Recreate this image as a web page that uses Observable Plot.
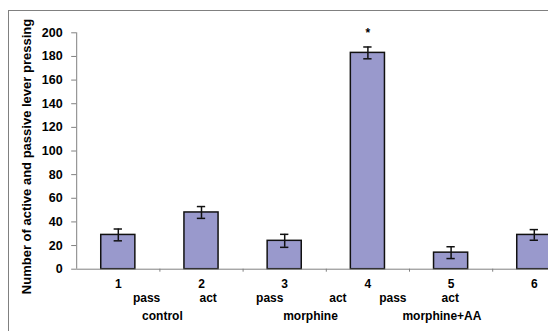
<!DOCTYPE html>
<html><head><meta charset="utf-8">
<script src="https://cdn.jsdelivr.net/npm/d3@7"></script>
<script src="https://cdn.jsdelivr.net/npm/@observablehq/plot@0.6"></script>
<style>
html,body{margin:0;padding:0;background:#fff;overflow:hidden;}
#wrap{position:relative;width:548px;height:331px;overflow:hidden;}
#frame{position:absolute;left:8px;top:10px;width:700px;height:500px;border:1px solid #808080;box-sizing:border-box;pointer-events:none;}
</style></head>
<body><div id="wrap"><div id="chart"></div><div id="frame"></div></div>
<script>
const categories = [1, 2, 3, 4, 5, 6];
const values = [29, 48, 24, 183, 14, 29];
const errors = [5, 5, 5.5, 5, 5, 4.5];
const notes = ["", "", "", "*", "", ""];
const yTicks = [0, 20, 40, 60, 80, 100, 120, 140, 160, 180, 200];
const conditionLabels = ["pass", "act", "pass", "act", "pass", "act"];
const conditionAt = [1.34, 2.08, 2.82, 3.64, 4.30, 4.99];
const groupLabels = ["control", "morphine", "morphine+AA"];
const groupAt = [1.53, 3.31, 4.89];
const yTitle = "Number of active and passive lever pressing";

const data = categories.map((c, i) => ({cat: c, value: values[i], err: errors[i], note: notes[i]}));
const half = 0.205, cap = 0.05;
const grey = "#808080";

const plot = Plot.plot({
  width: 548, height: 331,
  marginLeft: 76.2, marginRight: 548 - 575.4, marginTop: 32.3, marginBottom: 62.3,
  x: {type: "linear", domain: [0.5, 6.5], axis: null},
  y: {domain: [0, 200], axis: null},
  style: {fontFamily: "'Liberation Sans', Arial, sans-serif", fontSize: "12px", fontWeight: "bold", background: "transparent", overflow: "hidden"},
  marks: [
    Plot.axisY({ticks: yTicks, tickSize: 5, tickPadding: 9, stroke: grey, fontSize: 12.5, label: null}),
    Plot.ruleX([0.5], {stroke: grey}),
    Plot.axisX({ticks: categories.map(c => c + 0.5), tickSize: 3, tickFormat: () => "", stroke: grey, label: null}),
    Plot.axisX({ticks: categories, tickSize: 0, tickPadding: 10, tickFormat: d => String(d), label: null}),
    Plot.rectY(data, {x1: d => d.cat - half, x2: d => d.cat + half, y: "value", fill: "#9999cc", stroke: "#111", strokeWidth: 1.5}),
    Plot.ruleY([0], {stroke: grey}),
    Plot.ruleX(data, {x: "cat", y1: d => d.value - d.err, y2: d => d.value + d.err, stroke: "#111", strokeWidth: 1.5}),
    Plot.ruleY(data, {y: d => d.value + d.err, x1: d => d.cat - cap, x2: d => d.cat + cap, stroke: "#111", strokeWidth: 1.5}),
    Plot.ruleY(data, {y: d => d.value - d.err, x1: d => d.cat - cap, x2: d => d.cat + cap, stroke: "#111", strokeWidth: 1.5}),
    Plot.text(data.filter(d => d.note), {x: "cat", y: d => d.value + d.err, text: "note", dy: -13.6, fontSize: 12}),
    Plot.text(conditionLabels, {x: (d, i) => conditionAt[i], frameAnchor: "bottom", dy: 32.3, text: d => d}),
    Plot.text(groupLabels, {x: (d, i) => groupAt[i], frameAnchor: "bottom", dy: 50.8, text: d => d}),
    Plot.text([yTitle], {frameAnchor: "left", textAnchor: "middle", rotate: -90, dx: -49.5, dy: 5.5, fontSize: 13, text: d => d})
  ]
});
document.getElementById("chart").appendChild(plot);
</script>
</body></html>
